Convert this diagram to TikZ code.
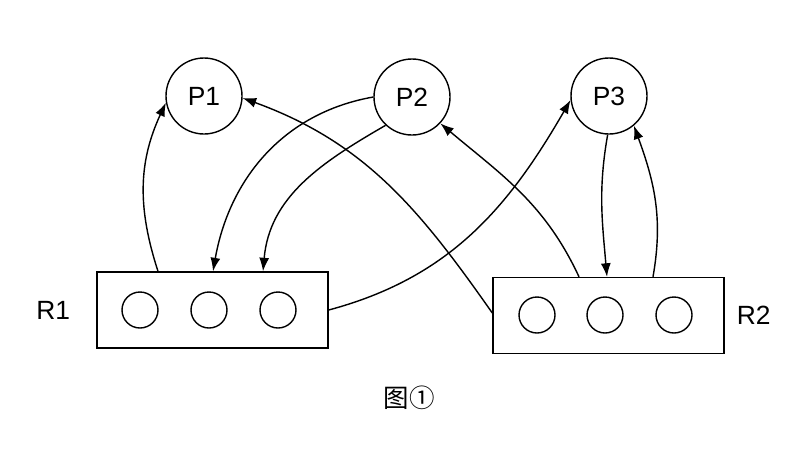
\documentclass[tikz,border=0pt]{standalone}
\usepackage{fontspec}
\setmainfont{Liberation Sans}
\newfontfamily\cjk{Noto Sans CJK SC}
\usepackage{tikz}
\usetikzlibrary{arrows.meta,positioning,calc}

\begin{document}
\begin{tikzpicture}[every node/.style={font=\fontsize{15}{18}\selectfont},
  proc/.style={draw, thick, circle, minimum size=1.52cm, inner sep=0pt},
  res/.style={draw, thick, minimum width=4.62cm, minimum height=1.52cm},
  slot/.style={draw, thick, circle, minimum size=0.72cm, inner sep=0pt},
  link/.style={-{Latex[length=2.7mm, width=2mm]}, thick}]
  \useasboundingbox (0,0) rectangle (16.2,-9);

  \node[proc] (p1) at (4.08,-1.92) {P1};
  \node[proc] (p2) at (8.24,-1.94) {P2};
  \node[proc] (p3) at (12.18,-1.92) {P3};

  \node[res] (r1) at (4.25,-6.2) {};
  \node[res] (r2) at (12.17,-6.31) {};
  \foreach \x [count=\i] in {2.8,4.18,5.56}
    \node[slot] (s1\i) at (\x,-6.2) {};
  \foreach \x [count=\i] in {10.74,12.1,13.48}
    \node[slot] (s2\i) at (\x,-6.3) {};

  \node[left=0.4cm of r1] (r1lbl) {R1};
  \node[right=0.12cm of r2] (r2lbl) {R2};
  \node (cap) at (8.18,-7.96) {\cjk\fontsize{14.5}{17}\selectfont 图①};

  \draw[link] ($(r1.north)+(-1.09,0)$) to[out=108, in=245] (p1.190);
  \draw[link] (p2.180) to[out=190, in=80] ($(r1.north)+(0.01,0)$);
  \draw[link] (p2.227) to[out=210, in=85] ($(r1.north)+(1.01,0)$);
  \draw[link] (r1.east) to[out=15, in=240] (p3.186);
  \draw[link] ($(r2.west)+(0,0.05)$) to[out=125, in=340] (p1.357);
  \draw[link] ($(r2.north)+(-0.59,0)$) to[out=115, in=320] (p2.317);
  \draw[link] (p3.268) to[out=260, in=95] ($(r2.north)+(-0.03,0)$);
  \draw[link] ($(r2.north)+(0.89,0)$) to[out=80, in=290] (p3.310);
\end{tikzpicture}
\end{document}
